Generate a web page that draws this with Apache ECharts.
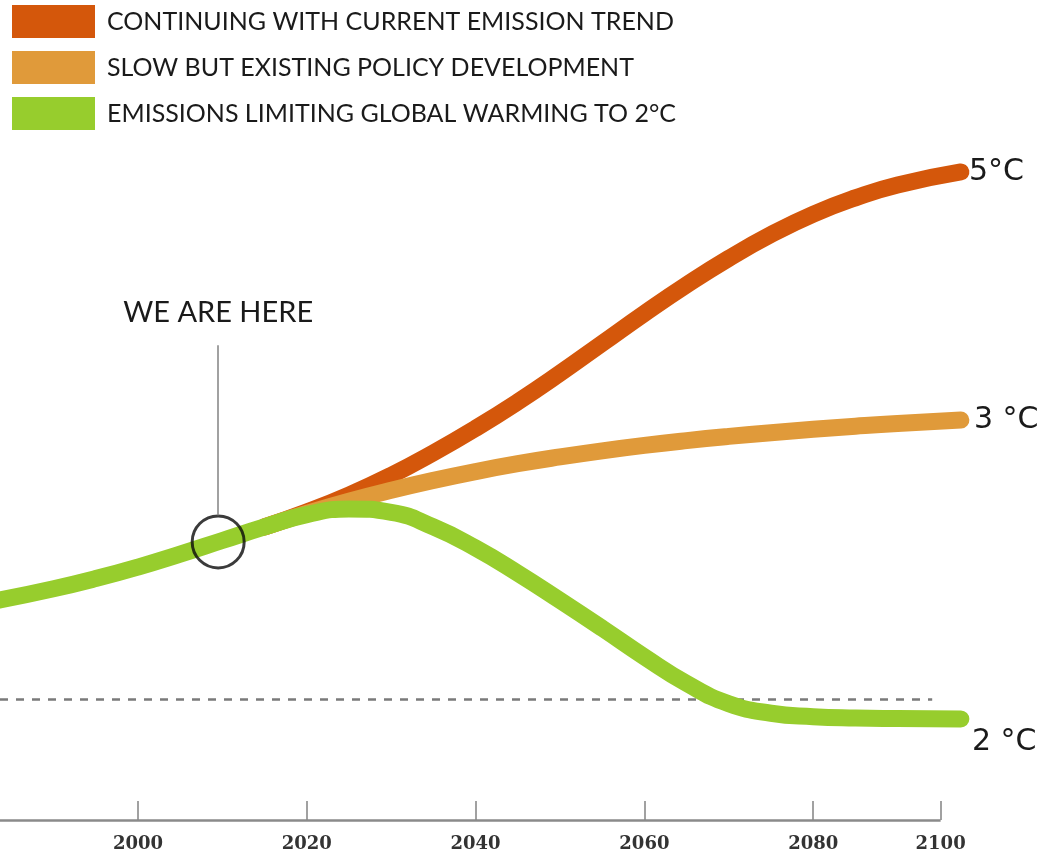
<!DOCTYPE html>
<html>
<head>
<meta charset="utf-8">
<script src="https://cdn.jsdelivr.net/npm/echarts@6/dist/echarts.min.js"></script>
<style>
  html, body { margin: 0; padding: 0; background: #ffffff; }
  #chart { width: 1043px; height: 856px; }
</style>
</head>
<body>
<div id="chart"></div>
<script>
// ---- data (schematic emission pathways) ----
const seriesNames = [
  'CONTINUING WITH CURRENT EMISSION TREND',
  'SLOW BUT EXISTING POLICY DEVELOPMENT',
  'EMISSIONS LIMITING GLOBAL WARMING TO 2°C'
];
const endLabels = ['5°C', '3 °C', '2 °C'];

const greenYears  = [1983.65, 1990, 1995, 2000, 2005, 2010, 2015, 2020, 2025, 2030, 2035, 2040, 2045, 2050, 2055, 2060, 2065, 2070, 2075, 2080, 2085, 2090, 2097.5];
const greenValues = [32.35, 34.0, 35.5, 37.2, 39.1, 41.1, 43.1, 44.9, 45.75, 45.25, 43.1, 40.0, 36.3, 32.3, 28.2, 24.0, 20.1, 17.1, 15.7, 15.2, 15.0, 14.92, 14.85];

const redYears  = [2015, 2020, 2025, 2030, 2035, 2040, 2045, 2050, 2055, 2060, 2065, 2070, 2075, 2080, 2085, 2090, 2097.5];
const redValues = [43.1, 45.29, 47.79, 50.69, 53.99, 57.59, 61.49, 65.69, 70.09, 74.49, 78.69, 82.59, 86.09, 89.09, 91.49, 93.39, 95.3];

const orangeYears  = [2015, 2020, 2025, 2030, 2035, 2040, 2045, 2050, 2055, 2060, 2065, 2070, 2075, 2080, 2085, 2090, 2097.5];
const orangeValues = [43.1, 45.09, 46.89, 48.49, 49.94, 51.24, 52.39, 53.39, 54.29, 55.09, 55.79, 56.41, 56.96, 57.46, 57.91, 58.31, 58.81];

const tickYears  = [2000, 2020, 2040, 2060, 2080, 2095.1];
const tickLabels = ['2000', '2020', '2040', '2060', '2080', '2100'];

const hereYear = 2009.5;
const hereValue = 40.9;
const hereLineTop = 69.8;
const hereLineBottom = 44.8;
const thresholdValue = 17.8;
const thresholdEndYear = 2094.1;

// ---- chart ----
const colors = ['#D4570B', '#E09A3A', '#97CD2D'];
const xMin = 1983.65, xMax = 2107.23;
const axisEndYear = 2095.1;

function pairs(xs, ys) { return xs.map((x, i) => [x, ys[i]]); }

const chart = echarts.init(document.getElementById('chart'), null, { renderer: 'canvas' });

function lineSeries(idx, xs, ys, labelOffset, labelDist) {
  return {
    name: seriesNames[idx],
    type: 'line',
    data: pairs(xs, ys),
    smooth: 0.5,
    showSymbol: false,
    symbol: 'none',
    clip: false,
    color: colors[idx],
    lineStyle: { width: 17, color: colors[idx], cap: 'round', join: 'round' },
    emphasis: { disabled: true },
    endLabel: {
      show: true,
      formatter: endLabels[idx],
      fontFamily: '"DejaVu Sans", sans-serif',
      fontSize: 30,
      color: '#1a1a1a',
      distance: labelDist,
      offset: labelOffset
    }
  };
}

const red = lineSeries(0, redYears, redValues, [0, 0], 8);
const orange = lineSeries(1, orangeYears, orangeValues, [0, 0], 13);
const green = lineSeries(2, greenYears, greenValues, [0, 23], 11);
green.markLine = {
  silent: true,
  z: 1,
  symbol: ['none', 'none'],
  label: { show: false },
  lineStyle: { color: '#7a7a7a', width: 2.5, type: [8, 8] },
  data: [
    [{ coord: [xMin, thresholdValue] }, { coord: [thresholdEndYear, thresholdValue] }],
    [{ coord: [xMin, 0], lineStyle: { color: '#8a8a8a', width: 2.5, type: 'solid' } }, { coord: [axisEndYear, 0] }]
  ]
};

const here = {
  type: 'scatter',
  z: 3,
  data: [[hereYear, hereValue]],
  symbol: 'circle',
  symbolSize: 52,
  itemStyle: { color: 'rgba(0,0,0,0)', borderColor: '#0a0a0a', borderWidth: 3 },
  emphasis: { disabled: true },
  silent: true,
  markLine: {
    silent: true,
    symbol: ['none', 'none'],
    lineStyle: { color: '#8a8a8a', width: 1.6, type: 'solid' },
    label: {
      show: true,
      position: 'end',
      formatter: 'WE ARE HERE',
      fontFamily: 'Lato, "Open Sans", sans-serif',
      fontSize: 29,
      color: '#1a1a1a',
      distance: 18
    },
    data: [[{ coord: [hereYear, hereLineBottom] }, { coord: [hereYear, hereLineTop] }]]
  }
};

chart.setOption({
  animation: false,
  backgroundColor: '#ffffff',
  legend: {
    orient: 'vertical',
    left: 7,
    top: 0,
    itemWidth: 83,
    itemHeight: 33,
    itemGap: 13,
    icon: 'rect',
    data: seriesNames,
    selectedMode: false,
    itemStyle: { borderWidth: 0 },
    lineStyle: { width: 0 },
    textStyle: {
      fontFamily: 'Lato, "Open Sans", sans-serif',
      fontSize: 25,
      color: '#1a1a1a',
      padding: [0, 0, 0, 7]
    }
  },
  grid: { left: 0, right: 0, top: 140, bottom: 36, containLabel: false },
  xAxis: {
    type: 'value',
    min: xMin,
    max: xMax,
    splitLine: { show: false },
    axisLine: { show: false },
    axisTick: {
      show: true,
      inside: true,
      length: 19,
      customValues: tickYears,
      lineStyle: { color: '#8a8a8a', width: 1.6 }
    },
    axisLabel: {
      show: true,
      customValues: tickYears,
      margin: 15,
      fontFamily: '"DejaVu Serif", serif',
      fontWeight: 'bold',
      fontSize: 18,
      color: '#333333',
      formatter: function (v) {
        const i = tickYears.indexOf(v);
        return i >= 0 ? tickLabels[i] : '';
      }
    }
  },
  yAxis: { type: 'value', min: 0, max: 100, show: false },
  series: [red, orange, green, here]
});
</script>
</body>
</html>
